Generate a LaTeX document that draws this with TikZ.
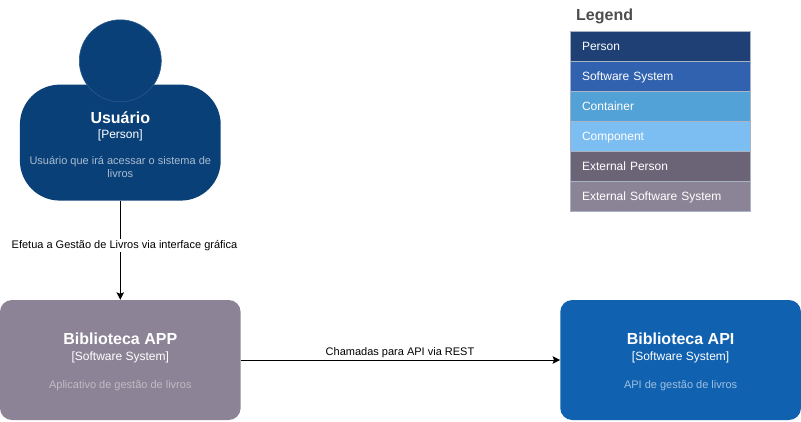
\documentclass[tikz,border=0pt]{standalone}
\usepackage{fontspec}
\setmainfont{Liberation Sans}
\usetikzlibrary{arrows.meta}
\definecolor{personfill}{HTML}{0A4078}
\definecolor{personline}{HTML}{2A5A8C}
\definecolor{apifill}{HTML}{1061B0}
\definecolor{appfill}{HTML}{8C8496}
\definecolor{legendtitle}{HTML}{4D4D4D}
\definecolor{legendline}{HTML}{A9B3C4}
\definecolor{legperson}{HTML}{1E4074}
\definecolor{legsystem}{HTML}{3162AF}
\definecolor{legcontainer}{HTML}{52A2D8}
\definecolor{legcomponent}{HTML}{7DBEF2}
\definecolor{legextperson}{HTML}{6B6477}
\definecolor{legextsystem}{HTML}{8B8496}
\newcommand{\boxname}[1]{{\fontsize{16}{18}\selectfont\bfseries #1}}
\newcommand{\boxkind}[1]{{\fontsize{12}{14}\selectfont #1}}
\begin{document}
\begin{tikzpicture}[x=1pt,y=-1pt]
    \tikzstyle{all boxes}=[inner sep=0pt,align=center,text=white]
    \tikzstyle{sysbox}=[all boxes,minimum width=240.7pt,minimum height=120pt,rounded corners=12pt,font=\fontsize{11}{13}\selectfont]
    \tikzstyle{legrow}=[draw=legendline,line width=0.6pt,minimum width=180pt,minimum height=30pt,text=white,
        inner sep=0pt,text width=157pt,text height=11pt,text depth=3pt,align=left,font=\fontsize{12}{14}\selectfont]
    \tikzstyle{conlabel}=[fill=white,inner sep=1pt,font=\fontsize{11}{13}\selectfont]
    \useasboundingbox(0,0)rectangle(801,421);
    \draw node[all boxes,fill=personfill,minimum width=200.8pt,minimum height=116pt,rounded corners=40pt,
            font=\fontsize{11}{13}\selectfont](usuario)at(120.3,142.6){%
            \rule{0pt}{3pt}\\[-1pt]\boxname{Usuário}\\[2pt]\boxkind{[Person]}\\[13pt]
            \color{white!65!personfill}Usuário que irá acessar o sistema de\\[0pt]\color{white!65!personfill}livros}
          node[circle,fill=personfill,draw=personline,line width=0.6pt,minimum size=82pt,inner sep=0pt](head)at(120.3,60.8){}
          node[sysbox,fill=appfill](app)at(120.3,360){%
            \rule{0pt}{3pt}\\[0pt]\boxname{Biblioteca APP}\\[3pt]\boxkind{[Software System]}\\[15pt]
            \color{white!45!appfill}Aplicativo de gestão de livros}
          node[sysbox,fill=apifill](api)at(680.6,360){%
            \rule{0pt}{3pt}\\[0pt]\boxname{Biblioteca API}\\[3pt]\boxkind{[Software System]}\\[15pt]
            \color{white!60!apifill}API de gestão de livros};
    % legenda
    \draw node[anchor=west,text=legendtitle,inner sep=0pt,font=\fontsize{16}{18}\selectfont\bfseries](legend)at(576,16){Legend}
          node[legrow,fill=legperson](lperson)at(660.5,46){Person}
          node[legrow,fill=legsystem](lsystem)at(660.5,76){Software System}
          node[legrow,fill=legcontainer](lcontainer)at(660.5,106){Container}
          node[legrow,fill=legcomponent](lcomponent)at(660.5,136){Component}
          node[legrow,fill=legextperson](lextperson)at(660.5,166){External Person}
          node[legrow,fill=legextsystem](lextsystem)at(660.5,196){External Software System};
    \tikzstyle{conarrow}=[-{Stealth[length=7.5pt,width=7.5pt,inset=1.5pt]},line width=0.9pt]
    \draw[conarrow](usuario)--node[conlabel,pos=0.45,xshift=4.2pt](lblgestao){Efetua a Gestão de Livros via interface gráfica}(app);
    \draw[conarrow](app)--(api);
    \draw node[conlabel,fill=none](lblrest)at(400,353){Chamadas para API via REST};
\end{tikzpicture}
\end{document}
